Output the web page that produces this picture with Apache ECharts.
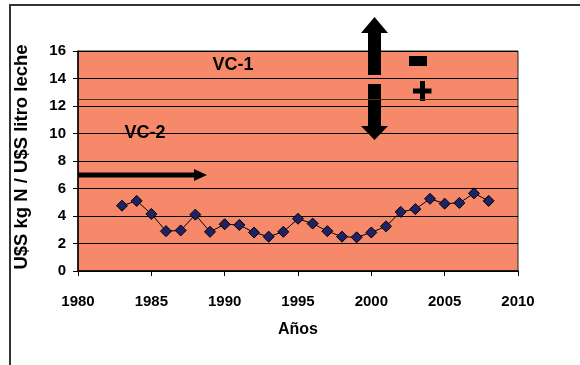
<!DOCTYPE html>
<html><head><meta charset="utf-8">
<script src="https://cdn.jsdelivr.net/npm/echarts@6/dist/echarts.min.js"></script>
<style>html,body{margin:0;padding:0;background:#fff}#c{width:580px;height:365px}</style>
</head><body><div id="c"></div>
<script>
const years = [1983,1984,1985,1986,1987,1988,1989,1990,1991,1992,1993,1994,1995,1996,1997,1998,1999,2000,2001,2002,2003,2004,2005,2006,2007,2008];
const values = [4.75,5.1,4.15,2.9,2.95,4.1,2.85,3.4,3.35,2.8,2.5,2.85,3.8,3.45,2.9,2.5,2.45,2.8,3.25,4.3,4.5,5.25,4.9,4.95,5.65,5.1];
const xTitle = 'Años';
const yTitle = 'U$S kg N / U$S litro leche';
const refLineValue = 12.5;
const labelVC1 = 'VC-1';
const labelVC2 = 'VC-2';

const font = '"Liberation Sans", Arial, sans-serif';
const chart = echarts.init(document.getElementById('c'), null, {renderer:'canvas'});
chart.setOption({
  animation:false,
  backgroundColor:'#ffffff',
  grid:{left:78,right:62,top:51,bottom:94,show:true,backgroundColor:'#F5896A',borderColor:'#222',borderWidth:1},
  xAxis:{type:'value',min:1980,max:2010,interval:5,
    name:xTitle,nameLocation:'middle',nameGap:51,
    nameTextStyle:{fontFamily:font,fontWeight:'bold',fontSize:16,color:'#000'},
    axisLine:{onZero:false,lineStyle:{color:'#000',width:1.5}},
    axisTick:{show:true,length:5,lineStyle:{color:'#000'}},
    axisLabel:{margin:23,fontFamily:font,fontWeight:'bold',fontSize:15,color:'#000',formatter:v=>String(v)},
    splitLine:{show:false}},
  yAxis:{type:'value',min:0,max:16,interval:2,
    name:yTitle,nameLocation:'middle',nameGap:47,
    nameTextStyle:{fontFamily:font,fontWeight:'bold',fontSize:18.5,color:'#000',padding:[0,0,0,8]},
    axisLine:{show:true,lineStyle:{color:'#000',width:1.5}},
    axisTick:{show:true,length:5,lineStyle:{color:'#000'}},
    axisLabel:{margin:12,fontFamily:font,fontWeight:'bold',fontSize:15,color:'#000'},
    splitLine:{show:true,lineStyle:{color:'#000',width:1}}},
  series:[{type:'line',data:years.map((y,i)=>[y,values[i]]),
    symbol:'diamond',symbolSize:11,
    lineStyle:{color:'#000',width:1},
    itemStyle:{color:'#1F2366',borderColor:'#000',borderWidth:1},
    markLine:{silent:true,symbol:['none','none'],label:{show:false},
      lineStyle:{color:'#5a2a1e',width:1,type:'solid'},
      data:[{yAxis:refLineValue}]}
  }],
  graphic:[
    {type:'polyline',shape:{points:[[10,365],[10,5],[580,5]]},style:{stroke:'#333',lineWidth:2,fill:null}},
    {type:'text',style:{text:labelVC1,x:233,y:65,align:'center',verticalAlign:'middle',font:'bold 18px '+font,fill:'#000'}},
    {type:'text',style:{text:labelVC2,x:145,y:133,align:'center',verticalAlign:'middle',font:'bold 18px '+font,fill:'#000'}},
    {type:'polygon',shape:{points:[[78,172.5],[194,172.5],[194,169],[207,175],[194,181],[194,177.5],[78,177.5]]},style:{fill:'#000'}},
    {type:'polygon',shape:{points:[[374.5,17],[388,33],[381,33],[381,75],[368,75],[368,33],[361,33]]},style:{fill:'#000'}},
    {type:'polygon',shape:{points:[[368,84],[381,84],[381,126],[388,126],[374.5,140],[361,126],[368,126]]},style:{fill:'#000'}},
    {type:'rect',shape:{x:409,y:56,width:18,height:10},style:{fill:'#000'}},
    {type:'rect',shape:{x:413,y:88.5,width:18.5,height:5},style:{fill:'#000'}},
    {type:'rect',shape:{x:420,y:81,width:5,height:20},style:{fill:'#000'}}
  ]
});
</script></body></html>
